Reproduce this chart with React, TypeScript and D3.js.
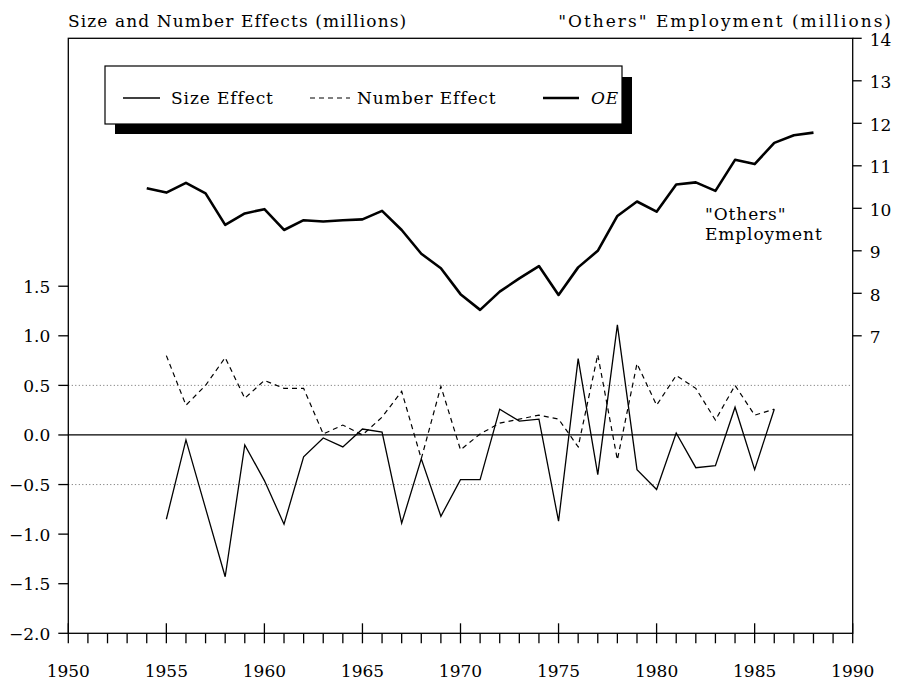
import { useEffect, useRef } from 'react';
import * as d3 from 'd3';

// "Others" employment, millions (right axis)
const oeYears = [
    1954, 1955, 1956, 1957, 1958, 1959, 1960, 1961, 1962, 1963, 1964, 1965,
    1966, 1967, 1968, 1969, 1970, 1971, 1972, 1973, 1974, 1975, 1976, 1977,
    1978, 1979, 1980, 1981, 1982, 1983, 1984, 1985, 1986, 1987, 1988,
];
const oeValues = [
    10.47, 10.37, 10.60, 10.35, 9.61, 9.88, 9.98, 9.49, 9.72, 9.69, 9.72, 9.74,
    9.94, 9.49, 8.93, 8.59, 7.98, 7.61, 8.04, 8.35, 8.64, 7.96, 8.61, 9.00,
    9.82, 10.16, 9.92, 10.56, 10.61, 10.41, 11.14, 11.04, 11.54, 11.72, 11.78,
];

// size and number effects, millions (left axis)
const effectYears = [
    1955, 1956, 1957, 1958, 1959, 1960, 1961, 1962, 1963, 1964, 1965, 1966,
    1967, 1968, 1969, 1970, 1971, 1972, 1973, 1974, 1975, 1976, 1977, 1978,
    1979, 1980, 1981, 1982, 1983, 1984, 1985, 1986,
];
const sizeEffect = [
    -0.85, -0.05, -0.74, -1.43, -0.10, -0.46, -0.90, -0.22, -0.03, -0.12, 0.06, 0.03,
    -0.89, -0.24, -0.82, -0.45, -0.45, 0.26, 0.14, 0.16, -0.87, 0.77, -0.40, 1.11,
    -0.35, -0.55, 0.02, -0.33, -0.31, 0.28, -0.35, 0.26,
];
const numberEffect = [
    0.80, 0.30, 0.50, 0.78, 0.37, 0.55, 0.47, 0.47, 0.01, 0.10, 0.00, 0.18,
    0.44, -0.24, 0.49, -0.15, 0.01, 0.12, 0.16, 0.20, 0.16, -0.12, 0.81, -0.25,
    0.72, 0.30, 0.60, 0.47, 0.15, 0.50, 0.20, 0.26,
];

const leftTicks = [-2.0, -1.5, -1.0, -0.5, 0.0, 0.5, 1.0, 1.5];
const rightTicks = [7, 8, 9, 10, 11, 12, 13, 14];
const yearTicks = [
    1950, 1951, 1952, 1953, 1954, 1955, 1956, 1957, 1958, 1959, 1960, 1961,
    1962, 1963, 1964, 1965, 1966, 1967, 1968, 1969, 1970, 1971, 1972, 1973,
    1974, 1975, 1976, 1977, 1978, 1979, 1980, 1981, 1982, 1983, 1984, 1985,
    1986, 1987, 1988, 1989, 1990,
];
const yearLabels = [1950, 1955, 1960, 1965, 1970, 1975, 1980, 1985, 1990];
const guideValues = [-0.5, 0.5];

const W = 899;
const H = 682;
const FONT = '"DejaVu Serif", serif';

export default function App() {
    const svgRef = useRef(null);

    useEffect(() => {
        if (!svgRef.current) return;
        const svg = d3.select(svgRef.current);
        svg.selectAll('*').remove();

        const left = 68.3;
        const right = 852.7;
        const top = 38.3;
        const bottom = 633.3;

        const x = d3.scaleLinear().domain([1950, 1990]).range([left, right]);
        const yL = d3.scaleLinear().domain([-2, 4]).range([bottom, top]);
        const yR = d3.scaleLinear().domain([0, 14]).range([bottom, top]);

        const g = svg.append('g')
            .attr('font-family', FONT)
            .attr('font-size', 17)
            .attr('fill', '#000');

        // guides
        g.selectAll('.guide')
            .data(guideValues)
            .join('line')
            .attr('x1', left).attr('x2', right)
            .attr('y1', (d) => yL(d)).attr('y2', (d) => yL(d))
            .attr('stroke', '#444')
            .attr('stroke-width', 0.8)
            .attr('stroke-dasharray', '1,2.5');

        g.append('line')
            .attr('x1', left).attr('x2', right)
            .attr('y1', yL(0)).attr('y2', yL(0))
            .attr('stroke', '#000')
            .attr('stroke-width', 1.3);

        // frame
        g.append('rect')
            .attr('x', left).attr('y', top)
            .attr('width', right - left).attr('height', bottom - top)
            .attr('fill', 'none')
            .attr('stroke', '#000')
            .attr('stroke-width', 1.3);

        // left axis
        g.selectAll('.ltick')
            .data(leftTicks)
            .join('line')
            .attr('x1', left - 10).attr('x2', left)
            .attr('y1', (d) => yL(d)).attr('y2', (d) => yL(d))
            .attr('stroke', '#000').attr('stroke-width', 1.3);
        g.selectAll('.llab')
            .data(leftTicks)
            .join('text')
            .attr('x', left - 18)
            .attr('y', (d) => yL(d))
            .attr('dy', '0.38em')
            .attr('text-anchor', 'end')
            .text((d) => d3.format('.1f')(d).replace('-', '\u2013'));

        // right axis
        g.selectAll('.rtick')
            .data(rightTicks)
            .join('line')
            .attr('x1', right).attr('x2', right + 9)
            .attr('y1', (d) => yR(d)).attr('y2', (d) => yR(d))
            .attr('stroke', '#000').attr('stroke-width', 1.3);
        g.selectAll('.rlab')
            .data(rightTicks)
            .join('text')
            .attr('x', right + 17)
            .attr('y', (d) => yR(d))
            .attr('dy', '0.45em')
            .text((d) => d);

        // bottom axis
        g.selectAll('.xtick')
            .data(yearTicks)
            .join('line')
            .attr('x1', (d) => x(d)).attr('x2', (d) => x(d))
            .attr('y1', (d) => (d % 5 === 0 ? bottom - 10 : bottom))
            .attr('y2', bottom + 10)
            .attr('stroke', '#000').attr('stroke-width', 1.3);
        g.selectAll('.xlab')
            .data(yearLabels)
            .join('text')
            .attr('x', (d) => x(d))
            .attr('y', 677)
            .attr('text-anchor', 'middle')
            .text((d) => d);

        // series
        const effectLine = d3.line()
            .x((d, i) => x(effectYears[i]))
            .y((d) => yL(d));
        const oeLine = d3.line()
            .x((d, i) => x(oeYears[i]))
            .y((d) => yR(d));

        g.append('path')
            .attr('d', effectLine(numberEffect))
            .attr('fill', 'none')
            .attr('stroke', '#000')
            .attr('stroke-width', 1.2)
            .attr('stroke-dasharray', '5,4');
        g.append('path')
            .attr('d', effectLine(sizeEffect))
            .attr('fill', 'none')
            .attr('stroke', '#000')
            .attr('stroke-width', 1.3);
        g.append('path')
            .attr('d', oeLine(oeValues))
            .attr('fill', 'none')
            .attr('stroke', '#000')
            .attr('stroke-width', 2.6)
            .attr('stroke-linejoin', 'round');

        // titles
        g.append('text')
            .attr('x', 68).attr('y', 27)
            .attr('letter-spacing', 1.1)
            .text('Size and Number Effects (millions)');
        g.append('text')
            .attr('x', 893).attr('y', 27)
            .attr('text-anchor', 'end')
            .attr('letter-spacing', 2.0)
            .text('"Others" Employment (millions)');

        // annotation
        g.append('text')
            .attr('x', 705).attr('y', 220)
            .attr('letter-spacing', 0.9)
            .text('"Others"');
        g.append('text')
            .attr('x', 705).attr('y', 240)
            .attr('letter-spacing', 0.9)
            .text('Employment');

        // legend with drop shadow
        const lg = g.append('g');
        lg.append('rect')
            .attr('x', 115).attr('y', 77)
            .attr('width', 517).attr('height', 57)
            .attr('fill', '#000');
        lg.append('rect')
            .attr('x', 105).attr('y', 66)
            .attr('width', 517).attr('height', 58)
            .attr('fill', '#fff')
            .attr('stroke', '#000')
            .attr('stroke-width', 1.2);

        const ly = 98;
        const items = [
            { label: 'Size Effect', x0: 123, x1: 160, tx: 171, width: 1.3, dash: null, italic: false },
            { label: 'Number Effect', x0: 310, x1: 350, tx: 357, width: 1.2, dash: '5,4', italic: false },
            { label: 'OE', x0: 543, x1: 579, tx: 591, width: 2.6, dash: null, italic: true },
        ];
        items.forEach((it) => {
            lg.append('line')
                .attr('x1', it.x0).attr('x2', it.x1)
                .attr('y1', ly).attr('y2', ly)
                .attr('stroke', '#000')
                .attr('stroke-width', it.width)
                .attr('stroke-dasharray', it.dash);
            lg.append('text')
                .attr('x', it.tx).attr('y', ly)
                .attr('dy', '0.36em')
                .attr('letter-spacing', 0.9)
                .attr('font-style', it.italic ? 'italic' : 'normal')
                .text(it.label);
        });
    }, []);

    return (
        <div style={{ position: 'absolute', left: 0, top: 0, width: W, height: H, background: '#fff' }}>
            <svg ref={svgRef} width={W} height={H} />
        </div>
    );
}
